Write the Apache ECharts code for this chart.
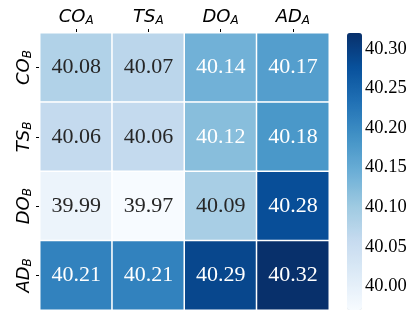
<!DOCTYPE html>
<html>
<head>
<meta charset="utf-8">
<script src="https://cdn.jsdelivr.net/npm/echarts@6/dist/echarts.min.js"></script>
<style>
  html, body { margin: 0; padding: 0; background: #fff; }
  #main { width: 412px; height: 311px; }
</style>
</head>
<body>
<div id="main"></div>
<script>
// column labels (subscript A) and row labels (subscript B)
var colNames = ['CO', 'TS', 'DO', 'AD']
var rowNames = ['CO', 'TS', 'DO', 'AD']
// heatmap values, one array per row (top to bottom)
var rowCO = [40.08, 40.07, 40.14, 40.17]
var rowTS = [40.06, 40.06, 40.12, 40.18]
var rowDO = [39.99, 39.97, 40.09, 40.28]
var rowAD = [40.21, 40.21, 40.29, 40.32]
var colorbarTicks = [40.00, 40.05, 40.10, 40.15, 40.20, 40.25, 40.30]
var valueMin = 39.97, valueMax = 40.32

var rows = [rowCO, rowTS, rowDO, rowAD]
var cells = []
rows.forEach(function (row, y) {
  row.forEach(function (v, x) {
    cells.push({
      value: [x, y, v],
      label: { color: v > 40.1 ? '#ffffff' : '#262626' }
    })
  })
})

var blues = ['#f7fbff', '#deebf7', '#c6dbef', '#9ecae1', '#6baed6', '#4292c6', '#2171b5', '#08519c', '#08306b']

var labelRich = {
  i: { fontFamily: 'DejaVu Sans', fontStyle: 'italic', fontSize: 18, color: '#000' },
  s: { fontFamily: 'DejaVu Sans', fontStyle: 'italic', fontSize: 12, color: '#000', verticalAlign: 'bottom', padding: [8, 0, 0, 0] }
}

var chart = echarts.init(document.getElementById('main'))
chart.setOption({
  animation: false,
  grid: [
    { left: 40, top: 33, width: 289, height: 277 },
    { left: 347, top: 33, width: 15, height: 277 }
  ],
  xAxis: [
    {
      type: 'category', gridIndex: 0, position: 'top', data: colNames,
      axisLine: { show: false },
      axisTick: { show: true, alignWithLabel: true, interval: 0, length: 4, lineStyle: { color: '#000' } },
      axisLabel: {
        margin: 6, interval: 0, rich: labelRich,
        formatter: function (v) { return '{i|' + v + '}{s|A}' }
      },
      splitLine: { show: false }
    },
    { type: 'value', gridIndex: 1, show: false, min: 0, max: 1 }
  ],
  yAxis: [
    {
      type: 'category', gridIndex: 0, inverse: true, data: rowNames,
      axisLine: { show: false },
      axisTick: { show: true, alignWithLabel: true, interval: 0, length: 4, lineStyle: { color: '#000' } },
      axisLabel: {
        margin: 6, interval: 0, rotate: 90, rich: labelRich,
        formatter: function (v) { return '{i|' + v + '}{s|B}' }
      },
      splitLine: { show: false }
    },
    {
      type: 'value', gridIndex: 1, position: 'right', min: valueMin, max: valueMax,
      axisLine: { show: false },
      splitLine: { show: false },
      axisTick: { show: true, length: 4, customValues: colorbarTicks, lineStyle: { color: '#000' } },
      axisLabel: {
        margin: 3, customValues: colorbarTicks,
        fontFamily: 'Liberation Serif', fontSize: 18.5, color: '#000',
        formatter: function (v) { return v.toFixed(2) }
      }
    }
  ],
  visualMap: {
    type: 'continuous', seriesIndex: 0,
    min: valueMin, max: valueMax,
    calculable: false, text: null, showLabel: false,
    orient: 'vertical', left: 347, top: 33, padding: 0,
    itemWidth: 15, itemHeight: 277,
    inRange: { color: blues }
  },
  series: [
    {
      type: 'heatmap', xAxisIndex: 0, yAxisIndex: 0,
      data: cells,
      itemStyle: { borderColor: '#fff', borderWidth: 1.5 },
      label: {
        show: true, fontFamily: 'Liberation Serif', fontSize: 22,
        formatter: function (p) { return p.value[2].toFixed(2) }
      },
      emphasis: { disabled: true }
    },
    { type: 'scatter', xAxisIndex: 1, yAxisIndex: 1, data: [] }
  ]
})
</script>
</body>
</html>
